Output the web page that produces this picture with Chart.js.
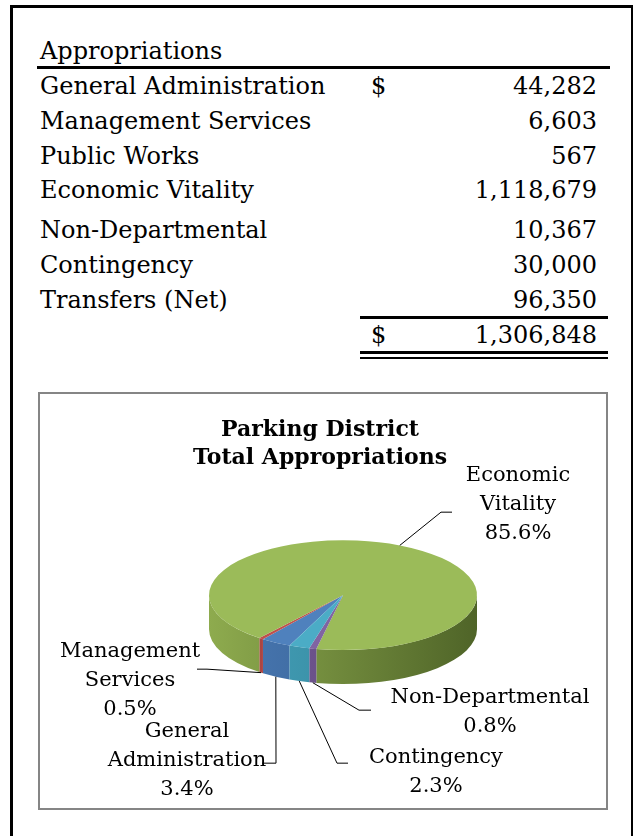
<!DOCTYPE html>
<html>
<head>
<meta charset="utf-8">
<script src="https://cdn.jsdelivr.net/npm/chart.js@4.4.1/dist/chart.umd.min.js"></script>
<style>
  html, body { margin: 0; padding: 0; background: #fff; overflow: hidden; }
  body { width: 634px; height: 836px; position: relative; font-family: "DejaVu Serif", serif; color: #000; }
  #frame { position: absolute; left: 10px; top: 5px; width: 623px; height: 860px; box-sizing: border-box;
           border-left: 3px solid #000; border-top: 3px solid #000; border-right: 2px solid #000; }
  .t { position: absolute; font-size: 24px; line-height: 28px; height: 28px; white-space: nowrap; }
  .rule { position: absolute; background: #000; }
  #box { position: absolute; left: 38px; top: 392px; width: 566px; height: 414px; border: 2px solid #858585; }
  #chart { display: block; }
</style>
</head>
<body>
<div id="frame"></div>
<div id="table"></div>
<div id="box"><canvas id="chart" width="566" height="414"></canvas></div>
<script>
// table data
const heading = 'Appropriations';
const categories = ['General Administration', 'Management Services', 'Public Works', 'Economic Vitality',
                    'Non-Departmental', 'Contingency', 'Transfers (Net)'];
const amounts = [44282, 6603, 567, 1118679, 10367, 30000, 96350];

// pie data (Public Works and Transfers are not in the chart)
const pieLabels = ['General Administration', 'Management Services', 'Economic Vitality', 'Non-Departmental', 'Contingency'];
const pieValues = [44282, 6603, 1118679, 10367, 30000];
const chartTitle = ['Parking District', 'Total Appropriations'];

const total = amounts.reduce((a, b) => a + b, 0);
const fmt = n => n.toLocaleString('en-US');

// ---- table ----
const rowBaselines = [94, 129, 164, 198, 238, 273, 308];
const tbl = document.getElementById('table');

function addText(txt, base, left, right) {
    const d = document.createElement('div');
    d.className = 't';
    d.textContent = txt;
    d.style.top = (base - 22) + 'px';
    if (left != null) d.style.left = left + 'px';
    if (right != null) { d.style.right = (634 - right) + 'px'; d.style.textAlign = 'right'; }
    tbl.appendChild(d);
}
function addRule(x, y, w, h) {
    const d = document.createElement('div');
    d.className = 'rule';
    d.style.left = x + 'px'; d.style.top = y + 'px';
    d.style.width = w + 'px'; d.style.height = h + 'px';
    tbl.appendChild(d);
}

addText(heading, 59, 40);
addRule(37, 66, 573, 3);
categories.forEach((c, i) => {
    addText(c, rowBaselines[i], 40);
    if (i === 0) addText('$', rowBaselines[i], 371);
    addText(fmt(amounts[i]), rowBaselines[i], null, 597);
});
addRule(360, 316, 248, 3);
addText('$', 343, 371);
addText(fmt(total), 343, null, 597);
addRule(360, 351, 248, 3);
addRule(360, 357, 248, 2);

// ---- 3d pie ----
const topColors = ['#4F81BD', '#C0504D', '#9BBB59', '#8064A2', '#4BACC6'];
const sideColors = [['#4a7ab5', '#2f5584'], ['#b54946', '#8a3331'], ['#8eab4e', '#4f6428'],
                    ['#7a5e9c', '#54406f'], ['#45a3bc', '#2e7a8e']];
const flat = 0.41;
const depth = 34;
const shiftX = 23;   // pie sits right of the title centre
const TAU = Math.PI * 2;

// label placement relative to the pie centre: elbow, end of leader, text centre
const labelLayout = [
    { elbow: [-67, 168], end: [-81, 168], text: [-156, 165] },
    { elbow: [-136, 74], end: [-146, 74], text: [-213, 85] },
    { elbow: [98, -83], end: [109, -83], text: [175, -91] },
    { elbow: [16, 115], end: [28, 115], text: [147, 117] },
    { elbow: [-6, 168], end: [5, 168], text: [93, 177] }
];

function drawSide(ctx, cx, cy, r, b, a0, a1, cols) {
    const g = ctx.createLinearGradient(cx - r, 0, cx + r, 0);
    g.addColorStop(0, cols[0]);
    g.addColorStop(1, cols[1]);
    ctx.beginPath();
    ctx.ellipse(cx, cy, r, b, 0, a0, a1, false);
    ctx.lineTo(cx + r * Math.cos(a1), cy + b * Math.sin(a1) + depth);
    ctx.ellipse(cx, cy + depth, r, b, 0, a1, a0, true);
    ctx.closePath();
    ctx.fillStyle = g;
    ctx.fill();
}

const pie3d = {
    id: 'pie3d',
    beforeDatasetsDraw(chart) {
        const ctx = chart.ctx;
        const arcs = chart.getDatasetMeta(0).data;
        const cx = arcs[0].x, cy = arcs[0].y, r = arcs[0].outerRadius;
        const b = r * flat;
        ctx.save();
        ctx.translate(shiftX, 0);
        arcs.forEach((arc, i) => {
            for (let k = -2; k <= 2; k++) {
                const a0 = Math.max(arc.startAngle + k * TAU, 0);
                const a1 = Math.min(arc.endAngle + k * TAU, Math.PI);
                if (a1 > a0) drawSide(ctx, cx, cy, r, b, a0, a1, sideColors[i]);
            }
        });
        ctx.translate(0, cy);
        ctx.scale(1, flat);
        ctx.translate(0, -cy);
    },
    afterDatasetsDraw(chart) {
        const ctx = chart.ctx;
        ctx.restore();
        const arcs = chart.getDatasetMeta(0).data;
        const cx = arcs[0].x + shiftX, cy = arcs[0].y, r = arcs[0].outerRadius;
        const b = r * flat;
        ctx.save();
        ctx.strokeStyle = '#000';
        ctx.lineWidth = 1;
        ctx.fillStyle = '#000';
        ctx.font = '21px "DejaVu Serif"';
        ctx.textAlign = 'center';
        ctx.textBaseline = 'middle';
        arcs.forEach((arc, i) => {
            const mid = (arc.startAngle + arc.endAngle) / 2;
            const front = Math.sin(mid) > 0;
            const ax = cx + r * Math.cos(mid);
            const ay = cy + b * Math.sin(mid) + (front ? depth : 0);
            const L = labelLayout[i];
            ctx.beginPath();
            ctx.moveTo(ax, ay);
            ctx.lineTo(cx + L.elbow[0], cy + L.elbow[1]);
            ctx.lineTo(cx + L.end[0], cy + L.end[1]);
            ctx.stroke();
            const lines = pieLabels[i].split(' ');
            lines.push((pieValues[i] / total * 100).toFixed(1) + '%');
            const n = lines.length;
            lines.forEach((t, j) => {
                ctx.fillText(t, cx + L.text[0], cy + L.text[1] + (j - (n - 1) / 2) * 29);
            });
        });
        ctx.restore();
    }
};

const ctx = document.getElementById('chart').getContext('2d');
const chart = new Chart(ctx, {
    type: 'pie',
    data: {
        labels: pieLabels,
        datasets: [{
            data: pieValues,
            backgroundColor: topColors,
            borderWidth: 0,
            radius: 134,
            clip: false
        }]
    },
    options: {
        responsive: false,
        animation: false,
        events: [],
        rotation: 203.5,
        layout: { padding: { left: 0, right: 6, top: 0, bottom: 90 } },
        plugins: {
            legend: { display: false },
            tooltip: { enabled: false },
            title: {
                display: true,
                text: chartTitle,
                color: '#000',
                font: { family: 'DejaVu Serif', size: 22, weight: 'bold', lineHeight: 1.28 },
                padding: { top: 22, bottom: 0 }
            }
        }
    },
    plugins: [pie3d]
});
</script>
</body>
</html>
